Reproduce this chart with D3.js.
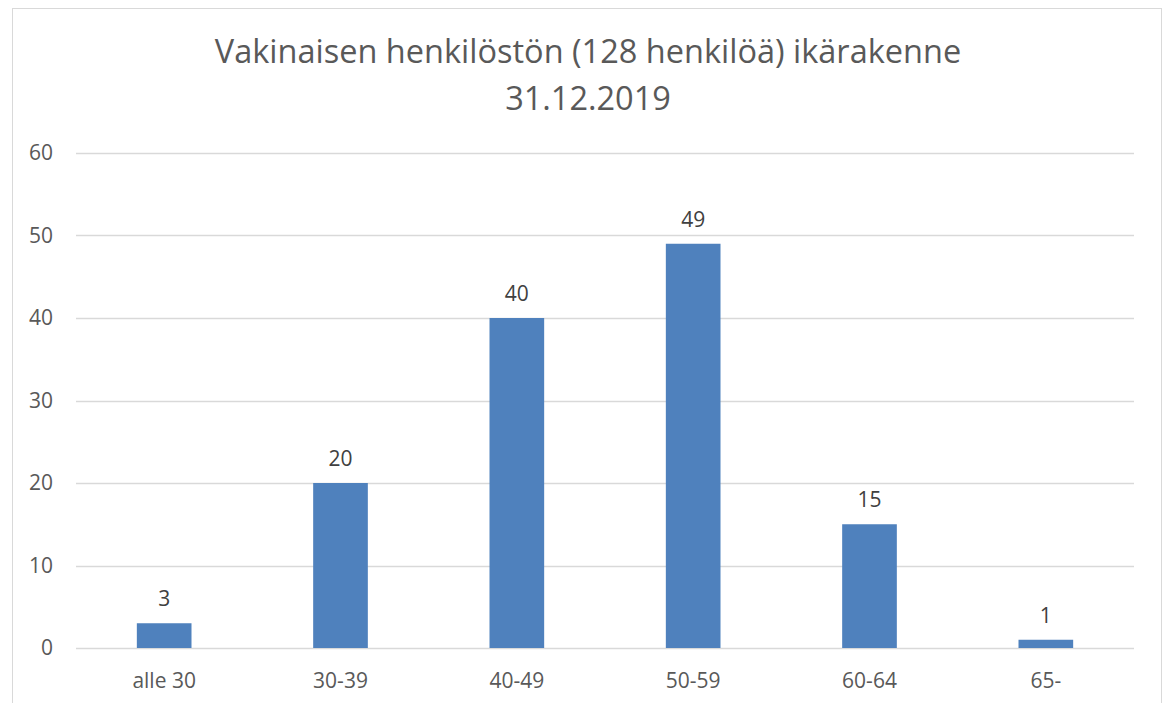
<!DOCTYPE html>
<html>
<head>
<meta charset="utf-8">
<script src="https://cdn.jsdelivr.net/npm/d3@7"></script>
<style>
  html, body { margin: 0; padding: 0; background: #fff; }
  svg { display: block; font-family: "Open Sans", "Noto Sans", sans-serif; }
</style>
</head>
<body>
<svg id="chart" width="1164" height="703"></svg>
<script>
const categories = ["alle 30", "30-39", "40-49", "50-59", "60-64", "65-"];
const values = [3, 20, 40, 49, 15, 1];
const yTicks = [0, 10, 20, 30, 40, 50, 60];
const titleLines = ["Vakinaisen henkilöstön (128 henkilöä) ikärakenne", "31.12.2019"];

const svg = d3.select("#chart");
const W = 1164, H = 703;
const plot = { left: 76, right: 1134, top: 153, bottom: 648 };
const FONT = "'Open Sans', sans-serif";

svg.append("rect").attr("width", W).attr("height", H).attr("fill", "#fff");
svg.append("rect")
  .attr("x", 12.5).attr("y", 8.5)
  .attr("width", 1149).attr("height", 720)
  .attr("fill", "none").attr("stroke", "#d9d9d9").attr("stroke-width", 1);

const x = d3.scaleBand().domain(categories).range([plot.left, plot.right]).paddingInner(0.69).paddingOuter(0.345);
const y = d3.scaleLinear().domain([0, 60]).range([plot.bottom, plot.top]);

// gridlines
svg.append("g").selectAll("line").data(yTicks).join("line")
  .attr("x1", plot.left).attr("x2", plot.right)
  .attr("y1", d => Math.round(y(d)) + 0.5).attr("y2", d => Math.round(y(d)) + 0.5)
  .attr("stroke", "#d9d9d9").attr("stroke-width", 1.3);

// y axis labels
const yAxis = d3.axisLeft(y).tickValues(yTicks).tickSize(0).tickPadding(0);
const gy = svg.append("g").attr("transform", `translate(${plot.left - 23},0)`).call(yAxis);
gy.select(".domain").remove();
gy.selectAll("text").attr("fill", "#595959").style("font-size", "21px").style("font-family", FONT);

// x axis labels
const xAxis = d3.axisBottom(x).tickSize(0).tickPadding(0);
const gx = svg.append("g").attr("transform", `translate(0,${plot.bottom})`).call(xAxis);
gx.select(".domain").remove();
gx.selectAll("text").attr("fill", "#595959").attr("y", 40).attr("dy", 0)
  .style("font-size", "21px").style("font-family", FONT);

// bars
svg.append("g").selectAll("rect").data(values).join("rect")
  .attr("x", (d, i) => x(categories[i]))
  .attr("width", x.bandwidth())
  .attr("y", d => y(d))
  .attr("height", d => y(0) - y(d))
  .attr("fill", "#4f81bd");

// value labels
svg.append("g").selectAll("text").data(values).join("text")
  .attr("x", (d, i) => x(categories[i]) + x.bandwidth() / 2)
  .attr("y", d => y(d) - 17)
  .attr("text-anchor", "middle")
  .attr("fill", "#404040")
  .style("font-size", "21px")
  .text(d => d);

// title
svg.append("g").selectAll("text").data(titleLines).join("text")
  .attr("x", 588)
  .attr("y", (d, i) => 63 + i * 47)
  .attr("text-anchor", "middle")
  .attr("fill", "#595959")
  .style("font-size", "32.5px")
  .text(d => d);
</script>
</body>
</html>
